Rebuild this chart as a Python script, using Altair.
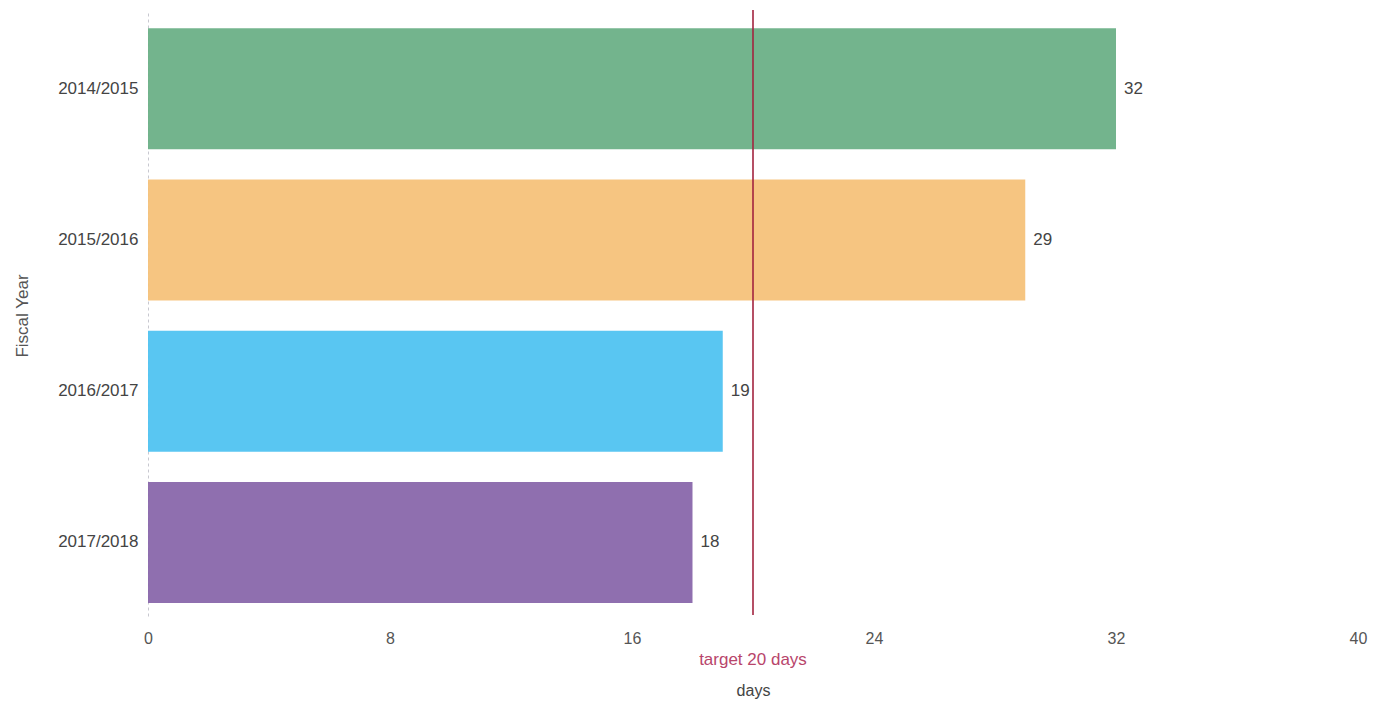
import altair as alt
import pandas as pd

# Average processing time per fiscal year (days)
years = ["2014/2015", "2015/2016", "2016/2017", "2017/2018"]
days = [32, 29, 19, 18]
colors = ["#6bb087", "#f5c27a", "#50c3f1", "#8967ab"]
target = 20
x_ticks = [0, 8, 16, 24, 32, 40]

df = pd.DataFrame({"year": years, "days": days})
target_df = pd.DataFrame({"target": [target], "label": [f"target {target} days"]})

font = "Liberation Sans"
fs = 17

x_scale = alt.Scale(domain=[0, 40], nice=False)
y_scale = alt.Scale(domain=years, paddingInner=0.2, paddingOuter=0.1)

bars = alt.Chart(df).mark_bar(opacity=0.95).encode(
    x=alt.X("days:Q", scale=x_scale,
            axis=alt.Axis(values=x_ticks, title="days", grid=False, domain=False,
                          ticks=False, labelFlush=False, labelPadding=12, titlePadding=36,
                          labelFontSize=fs - 1, labelColor="#555", titleFontSize=fs - 1,
                          titleFontWeight="normal", titleColor="#444",
                          labelFont=font, titleFont=font)),
    y=alt.Y("year:N", scale=y_scale,
            axis=alt.Axis(title="Fiscal Year", ticks=False, domainColor="#c8c8d0",
                          domainDash=[3, 3], labelPadding=10, labelFontSize=fs,
                          labelColor="#444", titleFontSize=fs, titleFontWeight="normal",
                          titleColor="#555", titlePadding=26,
                          labelFont=font, titleFont=font)),
    color=alt.Color("year:N", scale=alt.Scale(domain=years, range=colors), legend=None),
)

labels = alt.Chart(df).mark_text(align="left", baseline="middle", dx=8, fontSize=fs,
                                 color="#444", font=font).encode(
    x=alt.X("days:Q", scale=x_scale),
    y=alt.Y("year:N", scale=y_scale),
    text=alt.Text("days:Q", format=".0f"),
)

target_rule = alt.Chart(target_df).mark_rule(color="#a3243f", strokeWidth=1.6).encode(
    x=alt.X("target:Q", scale=x_scale),
    y=alt.value(-3),
    y2=alt.value(602),
)

target_label = alt.Chart(target_df).mark_text(align="center", baseline="middle", fontSize=fs,
                                              color="#b8456b", font=font).encode(
    x=alt.X("target:Q", scale=x_scale),
    y=alt.value(647),
    text="label:N",
)

chart = (bars + labels + target_rule + target_label).properties(
    width=1210,
    height=605,
    autosize=alt.AutoSizeParams(type="none"),
    padding={"left": 148, "top": 13, "right": 28, "bottom": 86},
    background="white",
).configure_view(stroke=None)

chart.save("out.html", embed_options={"renderer": "svg", "actions": False})
